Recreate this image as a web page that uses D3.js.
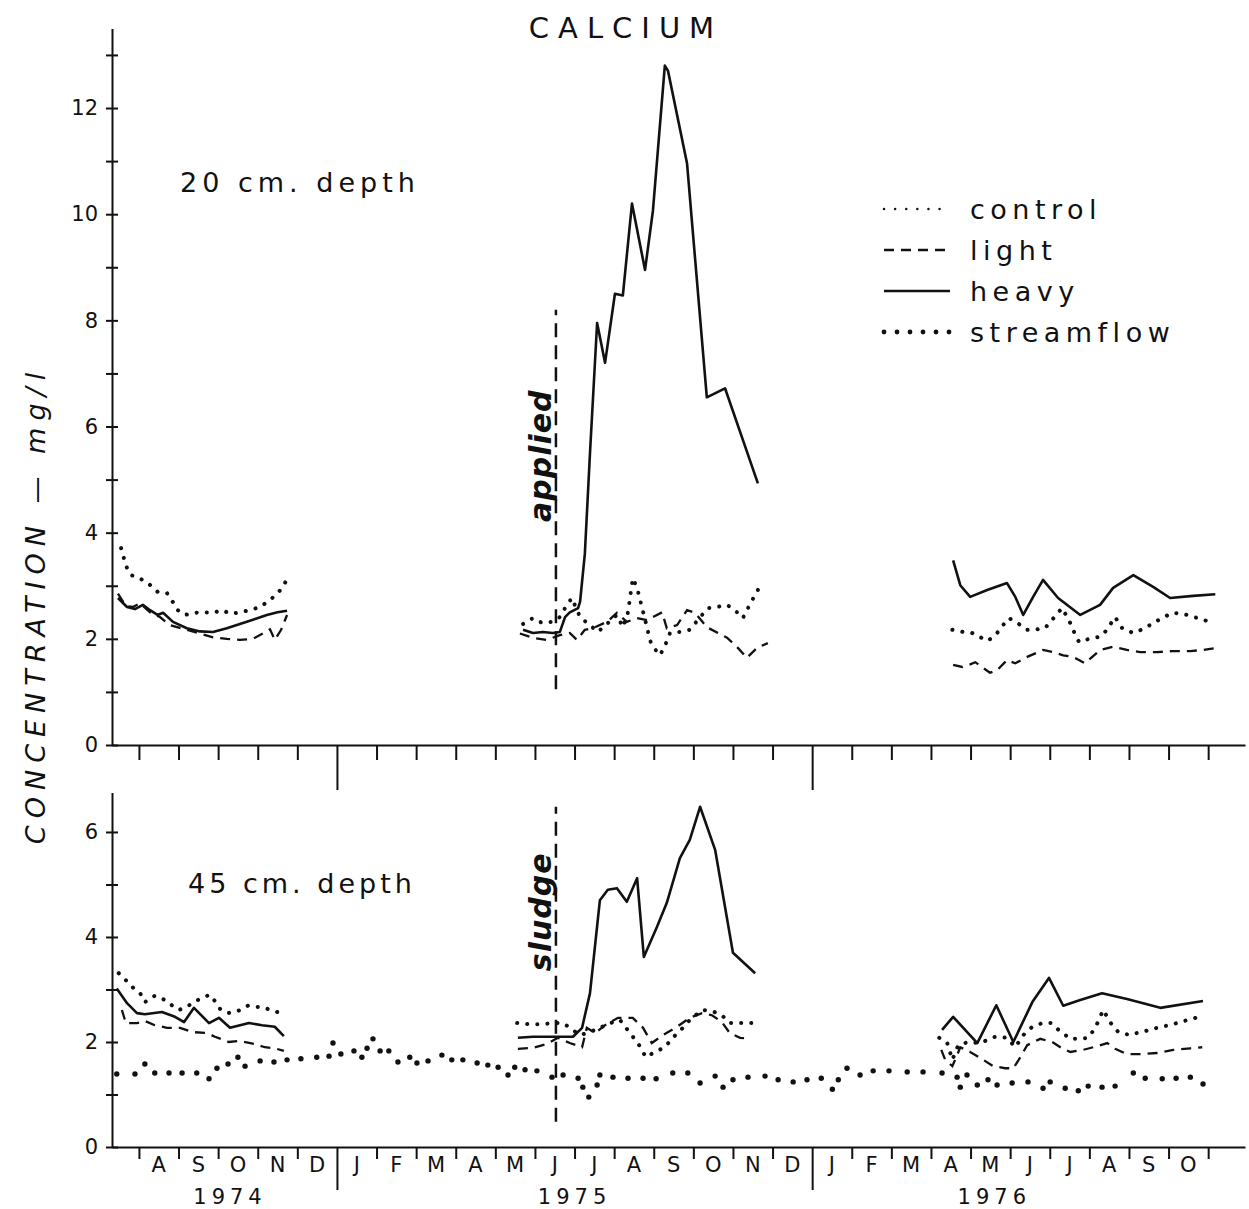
<!DOCTYPE html>
<html lang="en">
<head>
<meta charset="utf-8">
<title>Calcium</title>
<script src="https://d3js.org/d3.v7.min.js"></script>
<style>
  body { margin: 0; background: #fff; }
  text { font-family: "DejaVu Sans", sans-serif; fill: #111; }
  .axis path, .axis line { stroke: #111; stroke-width: 2; }
  .axis text { font-size: 21px; font-family: "DejaVu Sans", sans-serif; fill: #111; }
  .heavy { fill: none; stroke: #111; stroke-width: 2.6; stroke-linejoin: round; }
  .light { fill: none; stroke: #111; stroke-width: 2.3; stroke-dasharray: 10 7; }
  .control { fill: none; stroke: #111; stroke-width: 4; stroke-dasharray: 0.1 10; stroke-linecap: round; }
  .stream { fill: #111; }
  .applied { fill: none; stroke: #111; stroke-width: 2.5; stroke-dasharray: 14 8; }
</style>
</head>
<body>
<svg id="chart" width="1249" height="1209"></svg>
<script>
// time is counted in months from Jan 1974 (12 = Jan 1975, 24 = Jan 1976)
var monthLetters = ["J", "F", "M", "A", "M", "J", "J", "A", "S", "O", "N", "D"];
var monthTicks = d3.range(7, 35);
var yearLabels = [["1974", 9.3], ["1975", 18.0], ["1976", 28.6]];
var sludgeDate = 17.53;

// ---- 20 cm depth ----
var c20_74 = [[6.55,3.71],[6.62,3.52],[6.70,3.33],[6.80,3.2],[6.97,3.16],[7.23,3.05],[7.48,2.88],[7.71,2.86],[7.86,2.69],[7.98,2.54],[8.16,2.45],[8.41,2.49],[8.64,2.5],[8.87,2.49],[9.10,2.54],[9.32,2.47],[9.55,2.5],[9.80,2.54],[10.06,2.6],[10.31,2.73],[10.50,2.86],[10.64,2.98],[10.74,3.13]];
var l20_74 = [[6.47,2.85],[6.67,2.62],[6.85,2.6],[7.03,2.67],[7.28,2.5],[7.53,2.41],[7.78,2.26],[8.21,2.17],[8.54,2.1],[8.87,2.03],[9.22,2.0],[9.55,1.98],[9.88,2.0],[10.13,2.1],[10.31,2.18],[10.43,1.98],[10.59,2.17],[10.74,2.45]];
var h20_74 = [[6.47,2.77],[6.70,2.6],[6.90,2.56],[7.10,2.64],[7.28,2.54],[7.47,2.45],[7.61,2.49],[7.86,2.32],[8.21,2.2],[8.54,2.14],[8.87,2.13],[9.22,2.2],[9.55,2.28],[9.88,2.36],[10.23,2.45],[10.50,2.5],[10.74,2.53]];

var c20_75 = [[16.70,2.28],[16.95,2.39],[17.18,2.3],[17.43,2.32],[17.63,2.41],[17.76,2.58],[17.93,2.77],[18.14,2.41],[18.59,2.13],[19.07,2.45],[19.22,2.22],[19.35,2.5],[19.47,3.14],[19.58,2.96],[19.70,2.6],[19.83,2.22],[19.90,1.98],[19.98,1.85],[20.16,1.69],[20.31,1.92],[20.41,2.11],[20.66,2.13],[20.91,2.17],[21.22,2.45],[21.37,2.58],[21.60,2.6],[21.85,2.64],[22.05,2.54],[22.25,2.39],[22.38,2.58],[22.56,2.83],[22.73,3.05]];
var l20_75 = [[16.62,2.1],[16.95,2.02],[17.30,1.98],[17.63,2.07],[17.88,2.11],[18.06,1.98],[18.26,2.17],[18.46,2.2],[18.82,2.32],[19.07,2.49],[19.32,2.32],[19.58,2.39],[19.83,2.35],[19.98,2.41],[20.21,2.5],[20.33,2.2],[20.59,2.26],[20.84,2.54],[21.04,2.49],[21.34,2.22],[21.85,2.02],[22.10,1.85],[22.35,1.64],[22.61,1.83],[22.88,1.92]];
var h20_75 = [[16.70,2.17],[16.95,2.11],[17.20,2.13],[17.45,2.11],[17.63,2.13],[17.76,2.41],[17.88,2.5],[18.09,2.58],[18.14,2.7],[18.26,3.6],[18.39,5.5],[18.57,7.95],[18.77,7.2],[19.02,8.5],[19.22,8.47],[19.45,10.2],[19.78,8.95],[19.98,10.07],[20.28,12.8],[20.36,12.7],[20.84,10.96],[21.34,6.55],[21.80,6.72],[22.63,4.93]];

var c20_76 = [[27.54,2.17],[27.81,2.13],[28.04,2.11],[28.22,2.04],[28.44,1.96],[28.67,2.11],[28.80,2.24],[28.97,2.39],[29.18,2.3],[29.43,2.17],[29.68,2.18],[29.88,2.2],[30.14,2.43],[30.31,2.58],[30.44,2.41],[30.57,2.22],[30.64,2.07],[30.74,1.94],[30.99,2.0],[31.27,2.04],[31.42,2.15],[31.65,2.41],[31.83,2.2],[32.11,2.11],[32.41,2.2],[32.61,2.3],[32.84,2.39],[33.09,2.49],[33.37,2.47],[33.65,2.41],[33.92,2.35],[34.15,2.28]];
var l20_76 = [[27.56,1.51],[27.79,1.47],[27.99,1.52],[28.12,1.56],[28.32,1.45],[28.49,1.36],[28.67,1.41],[28.92,1.6],[29.13,1.54],[29.43,1.66],[29.83,1.79],[30.09,1.75],[30.34,1.69],[30.59,1.66],[30.89,1.54],[31.27,1.79],[31.60,1.85],[31.95,1.79],[32.28,1.75],[32.71,1.75],[33.12,1.77],[33.55,1.77],[33.87,1.79],[34.25,1.83]];
var h20_76 = [[27.56,3.48],[27.74,3.01],[27.99,2.79],[28.42,2.92],[28.92,3.05],[29.13,2.79],[29.33,2.45],[29.58,2.79],[29.83,3.11],[30.21,2.77],[30.77,2.45],[31.27,2.64],[31.60,2.96],[32.11,3.2],[32.61,2.98],[33.04,2.77],[33.62,2.81],[34.18,2.84]];

// ---- 45 cm depth ----
var c45_74 = [[6.49,3.31],[6.72,3.14],[6.87,3.02],[7.03,2.93],[7.15,2.76],[7.40,2.88],[7.66,2.8],[7.83,2.7],[8.01,2.61],[8.21,2.67],[8.39,2.76],[8.59,2.84],[8.79,2.9],[8.94,2.76],[9.05,2.63],[9.25,2.55],[9.50,2.59],[9.75,2.69],[9.98,2.67],[10.18,2.65],[10.38,2.59],[10.61,2.55]];
var l45_74 = [[6.57,2.61],[6.67,2.36],[6.95,2.36],[7.15,2.4],[7.40,2.32],[7.71,2.27],[8.04,2.27],[8.34,2.19],[8.72,2.17],[8.92,2.1],[9.27,2.0],[9.55,2.02],[9.93,1.96],[10.18,1.9],[10.43,1.88],[10.66,1.83]];
var h45_74 = [[6.44,3.02],[6.70,2.74],[6.95,2.55],[7.15,2.53],[7.58,2.57],[7.91,2.48],[8.14,2.38],[8.39,2.65],[8.77,2.36],[9.02,2.46],[9.30,2.27],[9.78,2.36],[10.11,2.32],[10.43,2.29],[10.66,2.11]];

var c45_75 = [[16.55,2.36],[16.82,2.34],[17.13,2.34],[17.51,2.36],[17.71,2.36],[17.88,2.27],[18.14,2.13],[18.39,2.19],[18.64,2.27],[18.97,2.38],[19.15,2.42],[19.40,2.17],[19.60,1.98],[19.80,1.71],[20.03,1.81],[20.28,1.9],[20.48,2.08],[20.71,2.25],[20.91,2.42],[21.22,2.61],[21.47,2.59],[21.72,2.51],[21.92,2.36],[22.35,2.36],[22.56,2.36]];
var l45_75 = [[16.57,1.87],[16.95,1.89],[17.30,1.96],[17.58,2.08],[17.88,1.98],[18.19,1.9],[18.31,2.27],[18.52,2.17],[18.77,2.32],[19.10,2.46],[19.47,2.46],[19.73,2.27],[19.95,1.98],[20.23,2.13],[20.59,2.29],[20.91,2.46],[21.22,2.55],[21.47,2.51],[21.72,2.38],[21.92,2.17],[22.18,2.08],[22.43,2.06]];
var h45_75 = [[16.57,2.08],[16.95,2.1],[17.38,2.1],[17.96,2.1],[18.19,2.27],[18.39,2.93],[18.64,4.7],[18.84,4.9],[19.07,4.93],[19.32,4.67],[19.58,5.12],[19.75,3.62],[20.08,4.19],[20.33,4.65],[20.66,5.5],[20.91,5.85],[21.17,6.48],[21.55,5.66],[22.00,3.7],[22.56,3.31]];

var c45_76 = [[27.21,2.08],[27.41,1.98],[27.48,1.81],[27.54,1.66],[27.69,1.94],[27.94,2.0],[28.17,1.98],[28.37,2.02],[28.62,2.1],[28.92,2.08],[29.13,1.9],[29.33,2.13],[29.56,2.29],[29.81,2.36],[30.04,2.36],[30.19,2.25],[30.52,2.06],[30.77,2.06],[30.97,2.08],[31.15,2.27],[31.35,2.61],[31.52,2.38],[31.73,2.19],[32.03,2.13],[32.28,2.19],[32.54,2.23],[32.79,2.29],[33.04,2.32],[33.29,2.38],[33.60,2.44],[33.85,2.5]];
var l45_76 = [[27.26,1.85],[27.36,1.66],[27.54,1.54],[27.66,1.75],[27.74,1.9],[27.99,1.81],[28.24,1.7],[28.57,1.54],[28.87,1.5],[29.08,1.5],[29.25,1.7],[29.43,1.94],[29.76,2.06],[30.06,2.0],[30.31,1.88],[30.52,1.81],[30.84,1.85],[31.20,1.92],[31.45,1.98],[31.65,1.87],[31.95,1.77],[32.28,1.77],[32.71,1.79],[33.12,1.85],[33.55,1.88],[33.85,1.9]];
var h45_76 = [[27.28,2.23],[27.56,2.48],[28.17,1.98],[28.65,2.7],[29.08,2.0],[29.56,2.76],[29.98,3.22],[30.34,2.69],[30.77,2.8],[31.32,2.93],[31.95,2.82],[32.79,2.65],[33.87,2.78]];

var streamflow = [[6.44,1.39],[6.90,1.39],[7.15,1.58],[7.40,1.41],[7.76,1.41],[8.09,1.41],[8.46,1.41],[8.77,1.3],[8.97,1.5],[9.25,1.58],[9.50,1.71],[9.68,1.54],[10.06,1.64],[10.41,1.62],[10.74,1.66],[11.09,1.68],[11.49,1.71],[11.80,1.73],[11.90,1.98],[12.10,1.77],[12.43,1.83],[12.63,1.71],[12.76,1.88],[12.91,2.06],[13.09,1.83],[13.31,1.83],[13.54,1.62],[13.84,1.71],[14.02,1.6],[14.30,1.64],[14.65,1.75],[14.90,1.66],[15.18,1.66],[15.54,1.6],[15.81,1.56],[16.07,1.52],[16.32,1.37],[16.49,1.52],[16.75,1.47],[17.05,1.45],[17.43,1.33],[17.71,1.37],[18.09,1.31],[18.21,1.14],[18.36,0.95],[18.57,1.18],[18.64,1.37],[18.97,1.33],[19.35,1.31],[19.73,1.31],[20.06,1.3],[20.48,1.41],[20.86,1.41],[21.17,1.22],[21.55,1.35],[21.75,1.14],[22.00,1.28],[22.38,1.33],[22.81,1.35],[23.14,1.28],[23.52,1.24],[23.87,1.28],[24.23,1.31],[24.51,1.1],[24.66,1.28],[24.88,1.5],[25.21,1.37],[25.54,1.45],[25.94,1.45],[26.40,1.43],[26.80,1.43],[27.28,1.41],[27.66,1.33],[27.74,1.14],[27.91,1.37],[28.17,1.18],[28.44,1.28],[28.67,1.18],[29.05,1.22],[29.45,1.24],[29.83,1.12],[30.01,1.24],[30.39,1.12],[30.72,1.07],[30.97,1.16],[31.32,1.14],[31.65,1.16],[32.11,1.41],[32.41,1.31],[32.84,1.3],[33.19,1.31],[33.55,1.33],[33.87,1.2]];

var legendItems = ["control", "light", "heavy", "streamflow"];

var svg = d3.select("#chart");
var x = d3.scaleLinear().domain([6.32, 34.93]).range([112, 1245]);

var panels = [
  { y: d3.scaleLinear().domain([0, 13.5]).range([745, 28.4]), ticks: d3.range(0, 14),
    control: [c20_74, c20_75, c20_76], light: [l20_74, l20_75, l20_76], heavy: [h20_74, h20_75, h20_76],
    stream: null, tick: 15, yearTick: 45, dash: [1.05, 8.2], label: "20 cm. depth", labelPos: [180, 192], note: "applied", noteY: 5.45 },
  { y: d3.scaleLinear().domain([0, 6.75]).range([1147, 792.6]), ticks: d3.range(0, 7),
    control: [c45_74, c45_75, c45_76], light: [l45_74, l45_75, l45_76], heavy: [h45_74, h45_75, h45_76],
    stream: streamflow, tick: 12, yearTick: 43, dash: [0.48, 6.48], label: "45 cm. depth", labelPos: [188, 893], note: "sludge", noteY: 4.48 }
];

panels.forEach(function(p, i) {
  var y = p.y;
  var g = svg.append("g");

  var ya = g.append("g").attr("class", "axis").attr("transform", "translate(112,0)")
    .call(d3.axisLeft(y).tickValues(p.ticks).tickSize(6).tickSizeOuter(0).tickPadding(8)
      .tickFormat(function(d) { return d % 2 == 0 ? d : ""; }));
  ya.selectAll(".tick line").attr("x1", 6);

  var xa = g.append("g").attr("class", "axis").attr("transform", "translate(0," + y(0) + ")")
    .call(d3.axisBottom(x).tickValues(monthTicks).tickSize(p.tick).tickSizeOuter(0).tickFormat(""));
  xa.selectAll(".tick line").filter(function(d) { return d % 12 == 0; }).attr("y2", p.yearTick);

  var line = d3.line().x(function(d) { return x(d[0]); }).y(function(d) { return y(d[1]); });
  ["light", "heavy", "control"].forEach(function(k) {
    p[k].forEach(function(s) {
      g.append("path").datum(s).attr("class", k).attr("d", line);
    });
  });
  if (p.stream) {
    g.selectAll("circle.stream").data(p.stream).enter().append("circle")
      .attr("class", "stream").attr("cx", function(d) { return x(d[0]); })
      .attr("cy", function(d) { return y(d[1]); }).attr("r", 2.7);
  }

  g.append("line").attr("class", "applied")
    .attr("x1", x(sludgeDate)).attr("x2", x(sludgeDate))
    .attr("y1", y(p.dash[0])).attr("y2", y(p.dash[1]));
  g.append("text").attr("transform", "translate(" + (x(sludgeDate) - 5) + "," + y(p.noteY) + ") rotate(-90)")
    .attr("text-anchor", "middle").style("font-size", "30px").style("font-style", "italic")
    .style("font-weight", "bold").style("letter-spacing", "1px").text(p.note);

  g.append("text").attr("x", p.labelPos[0]).attr("y", p.labelPos[1])
    .style("font-size", "27px").style("letter-spacing", i == 0 ? "5px" : "4px").text(p.label);
});

// month letters and years under the lower panel
svg.selectAll("text.month").data(d3.range(7, 34)).enter().append("text")
  .attr("class", "month").attr("x", function(d) { return x(d + 0.5); }).attr("y", 1172)
  .attr("text-anchor", "middle").style("font-size", "21px")
  .text(function(d) { return monthLetters[d % 12]; });
svg.selectAll("text.year").data(yearLabels).enter().append("text")
  .attr("x", function(d) { return x(d[1]); }).attr("y", 1204)
  .attr("text-anchor", "middle").style("font-size", "21px").style("letter-spacing", "5px")
  .text(function(d) { return d[0]; });

svg.append("text").attr("x", 626).attr("y", 38).attr("text-anchor", "middle")
  .style("font-size", "29px").style("letter-spacing", "9px").text("CALCIUM");

svg.append("text").attr("transform", "translate(45,605) rotate(-90)").attr("text-anchor", "middle")
  .style("font-size", "27px").style("font-style", "italic").style("letter-spacing", "7px")
  .text("CONCENTRATION — mg/l");

// legend
var lg = svg.append("g").attr("transform", "translate(884,209)");
legendItems.forEach(function(k, i) {
  var ly = i * 41;
  if (k == "streamflow") {
    lg.selectAll("circle.leg").data(d3.range(6)).enter().append("circle")
      .attr("cx", function(d) { return d * 13; }).attr("cy", ly).attr("r", 2.4).attr("fill", "#111");
  } else {
    var s = lg.append("line").attr("x1", 0).attr("x2", 66).attr("y1", ly).attr("y2", ly).attr("class", k);
    if (k == "control") s.style("stroke-width", 2.4).style("stroke-dasharray", "0.1 11");
  }
  lg.append("text").attr("x", 86).attr("y", ly + 10).style("font-size", "27px")
    .style("letter-spacing", "5.5px").text(k);
});
</script>
</body>
</html>
